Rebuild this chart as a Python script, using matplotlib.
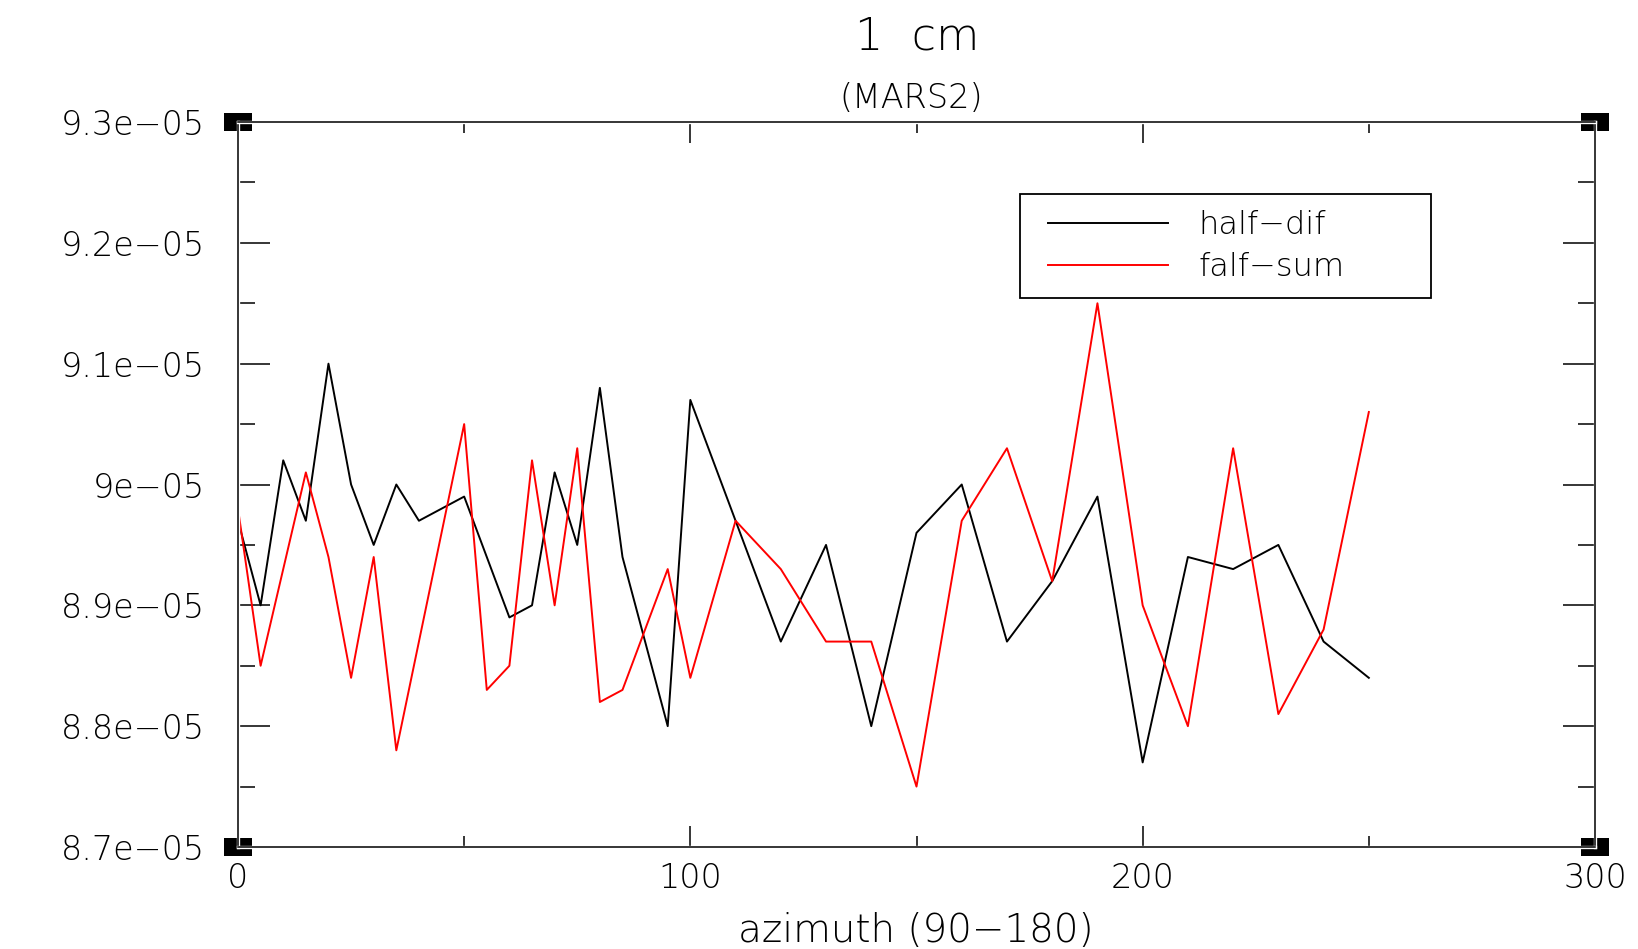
import numpy as np
import matplotlib
matplotlib.use("Agg")
import matplotlib.pyplot as plt
import matplotlib.patheffects as pe
from matplotlib.path import Path
from matplotlib.legend_handler import HandlerLine2D

# azimuth samples (5-degree steps up to 100, then 10-degree steps)
azimuth = [0, 5, 10, 15, 20, 25, 30, 35, 40, 45, 50, 55, 60, 65, 70, 75, 80, 85,
           90, 95, 100, 110, 120, 130, 140, 150, 160, 170, 180, 190, 200, 210,
           220, 230, 240, 250]

half_dif = [8.97e-05, 8.90e-05, 9.02e-05, 8.97e-05, 9.10e-05, 9.00e-05, 8.95e-05,
            9.00e-05, 8.97e-05, 8.98e-05, 8.99e-05, 8.94e-05, 8.89e-05, 8.90e-05,
            9.01e-05, 8.95e-05, 9.08e-05, 8.94e-05, 8.87e-05, 8.80e-05, 9.07e-05,
            8.97e-05, 8.87e-05, 8.95e-05, 8.80e-05, 8.96e-05, 9.00e-05, 8.87e-05,
            8.92e-05, 8.99e-05, 8.77e-05, 8.94e-05, 8.93e-05, 8.95e-05, 8.87e-05,
            8.84e-05]

falf_sum = [8.98e-05, 8.85e-05, 8.93e-05, 9.01e-05, 8.94e-05, 8.84e-05, 8.94e-05,
            8.78e-05, 8.87e-05, 8.96e-05, 9.05e-05, 8.83e-05, 8.85e-05, 9.02e-05,
            8.90e-05, 9.03e-05, 8.82e-05, 8.83e-05, 8.88e-05, 8.93e-05, 8.84e-05,
            8.97e-05, 8.93e-05, 8.87e-05, 8.87e-05, 8.75e-05, 8.97e-05, 9.03e-05,
            8.92e-05, 9.15e-05, 8.90e-05, 8.80e-05, 9.03e-05, 8.81e-05, 8.88e-05,
            9.06e-05]

x_ticks = [0, 100, 200, 300]
x_tick_labels = ["0", "100", "200", "300"]
y_ticks = [8.7e-05, 8.8e-05, 8.9e-05, 9.0e-05, 9.1e-05, 9.2e-05, 9.3e-05]
y_tick_labels = ["8.7e\u221205", "8.8e\u221205", "8.9e\u221205", "9e\u221205",
                 "9.1e\u221205", "9.2e\u221205", "9.3e\u221205"]

title = "1  cm"
subtitle = "(MARS2)"
x_label = "azimuth (90\u2212180)"
series_labels = ["half\u2212dif", "falf\u2212sum"]

plt.rcParams["font.family"] = ["DejaVu Sans"]
plt.rcParams["font.weight"] = 200


class InsetLine(HandlerLine2D):
    """Legend line that starts a little in from the frame edge."""

    def __init__(self, inset=0.38, **kw):
        super().__init__(**kw)
        self.inset = inset

    def create_artists(self, legend, orig_handle, xdescent, ydescent, width,
                       height, fontsize, trans):
        s = self.inset * fontsize
        return super().create_artists(legend, orig_handle, xdescent - s,
                                      ydescent, width - s, height, fontsize,
                                      trans)


W, H = 1638, 949
fig = plt.figure(figsize=(W / 100, H / 100), dpi=100)
ax = fig.add_axes([238 / W, 1 - 847 / H, (1595 - 238) / W, (847 - 122) / H])

l1, = ax.plot(azimuth, half_dif, color="black", lw=1.4, label=series_labels[0])
l2, = ax.plot(azimuth, falf_sum, color="#ff0000", lw=1.4, label=series_labels[1])

ax.set_xlim(0, 300)
ax.set_ylim(8.7e-05, 9.3e-05)

ax.set_xticks(x_ticks)
ax.set_xticklabels(x_tick_labels)
ax.set_xticks([50, 150, 250], minor=True)
ax.set_yticks(y_ticks)
ax.set_yticklabels(y_tick_labels)
ax.set_yticks(np.arange(8.75e-05, 9.3e-05, 1e-06), minor=True)

ax.tick_params(axis="both", which="both", direction="in", top=True, right=True,
               width=1.1, color="black", labelsize=24)
ax.tick_params(axis="x", which="major", length=15, pad=11)
ax.tick_params(axis="x", which="minor", length=8)
ax.tick_params(axis="y", which="major", length=23, pad=24)
ax.tick_params(axis="y", which="minor", length=12)

halo = [pe.Stroke(linewidth=2.4, foreground="white"), pe.Normal()]
for sp in ax.spines.values():
    sp.set_linewidth(1.1)
    sp.set_path_effects(halo)
    sp.set_zorder(3)

# filled corner blocks
rect = Path([(-1.55, -1), (1.55, -1), (1.55, 1), (-1.55, 1), (-1.55, -1)],
            [Path.MOVETO, Path.LINETO, Path.LINETO, Path.LINETO, Path.CLOSEPOLY])
for cx, cy in [(0, 8.7e-05), (300, 8.7e-05), (0, 9.3e-05), (300, 9.3e-05)]:
    ax.plot([cx], [cy], marker=rect, markersize=20, color="black", mew=0,
            clip_on=False, zorder=2.8)

fig.text(917 / W, 1 - 49 / H, title, ha="center", va="baseline", fontsize=32)
fig.text(911 / W, 1 - 108 / H, subtitle, ha="center", va="baseline", fontsize=24)
fig.text(916 / W, 1 - 942 / H, x_label, ha="center", va="baseline", fontsize=28)

ax_w, ax_h = 1595 - 238, 847 - 122
bx0 = (1020 - 238) / ax_w
bw = (1431 - 1020) / ax_w
bh = (296 - 194) / ax_h
by1 = 1 - (194 - 122) / ax_h
leg = ax.legend(handles=[l1, l2], loc="upper left",
                bbox_to_anchor=(bx0, by1 - bh, bw, bh),
                mode="expand", borderaxespad=0, fontsize=23, frameon=True,
                fancybox=False, edgecolor="black", framealpha=1,
                handlelength=4.13, handletextpad=0.94, borderpad=0.51,
                labelspacing=0.36,
                handler_map={l1: InsetLine(), l2: InsetLine()})
leg.get_frame().set_linewidth(1.3)

fig.savefig("out.png", dpi=100, facecolor="white")
